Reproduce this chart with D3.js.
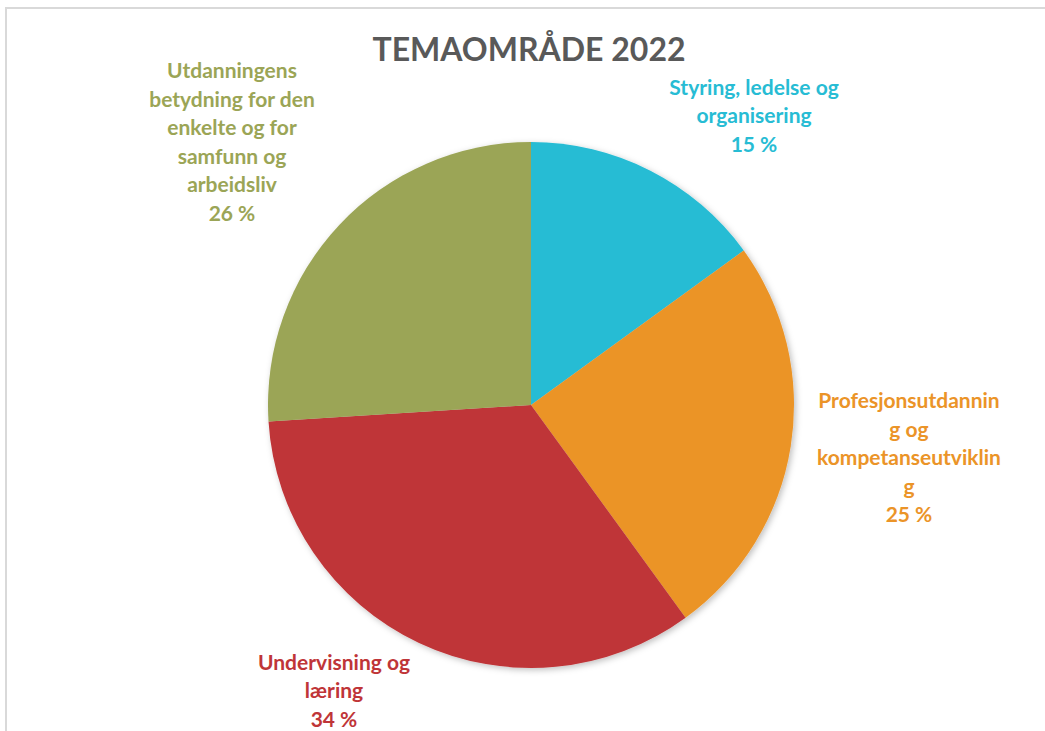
<!DOCTYPE html>
<html lang="no">
<head>
    <meta charset="UTF-8">
    <title>Temaområde 2022</title>
    <script src="https://d3js.org/d3.v7.min.js"></script>
    <style>
        body { margin: 0; background: #fff; }
        text { font-family: Lato, "Open Sans", sans-serif; font-weight: bold; }
    </style>
</head>
<body>
<script type="text/javascript">
    // data
    var categories = [
        ["Styring, ledelse og", "organisering"],
        ["Profesjonsutdannin", "g og", "kompetanseutviklin", "g"],
        ["Undervisning og", "læring"],
        ["Utdanningens", "betydning for den", "enkelte og for", "samfunn og", "arbeidsliv"]
    ];
    var values = [15, 25, 34, 26];
    var colors = ["#27bcd4", "#eb9428", "#bf3538", "#9ba556"];
    var titleText = "TEMAOMRÅDE 2022";

    var width = 1045, height = 731;
    var cx = 531, cy = 405, radius = 263;
    var lineHeight = 28.5;

    // label block centres (x, y of middle of block), Excel "best fit" style
    var labelPos = [[754, 116], [909, 458], [334, 691], [232, 142]];

    var svg = d3.select("body").append("svg")
        .attr("width", width)
        .attr("height", height);

    // outer frame
    svg.append("rect")
        .attr("x", 6)
        .attr("y", 8)
        .attr("width", width + 10)
        .attr("height", height + 10)
        .attr("fill", "none")
        .attr("stroke", "#d9d9d9")
        .attr("stroke-width", 2);

    var defs = svg.append("defs");
    var shadow = defs.append("filter").attr("id", "shadow")
        .attr("x", "-10%").attr("y", "-10%").attr("width", "120%").attr("height", "120%");
    shadow.append("feDropShadow")
        .attr("dx", 2).attr("dy", 2).attr("stdDeviation", 3)
        .attr("flood-color", "#000").attr("flood-opacity", 0.25);

    svg.append("text")
        .attr("x", 529)
        .attr("y", 61)
        .attr("text-anchor", "middle")
        .attr("font-size", "32px")
        .attr("fill", "#595959")
        .text(titleText);

    var pie = d3.pie().sort(null).value(function (d) { return d; });
    var arc = d3.arc().innerRadius(0).outerRadius(radius);

    var g = svg.append("g")
        .attr("transform", "translate(" + cx + "," + cy + ")")
        .attr("filter", "url(#shadow)");

    g.selectAll("path")
        .data(pie(values))
        .enter()
        .append("path")
        .attr("d", arc)
        .attr("fill", function (d, i) { return colors[i]; });

    var labels = svg.selectAll("text.lbl")
        .data(categories)
        .enter()
        .append("text")
        .attr("class", "lbl")
        .attr("text-anchor", "middle")
        .attr("font-size", "21px")
        .attr("fill", function (d, i) { return colors[i]; });

    labels.each(function (d, i) {
        var lines = d.concat([values[i] + " %"]);
        var top = labelPos[i][1] - (lines.length - 1) * lineHeight / 2;
        d3.select(this).selectAll("tspan")
            .data(lines)
            .enter()
            .append("tspan")
            .attr("x", labelPos[i][0])
            .attr("y", function (l, j) { return top + j * lineHeight; })
            .attr("dy", "0.35em")
            .text(function (l) { return l; });
    });
</script>
</body>
</html>
